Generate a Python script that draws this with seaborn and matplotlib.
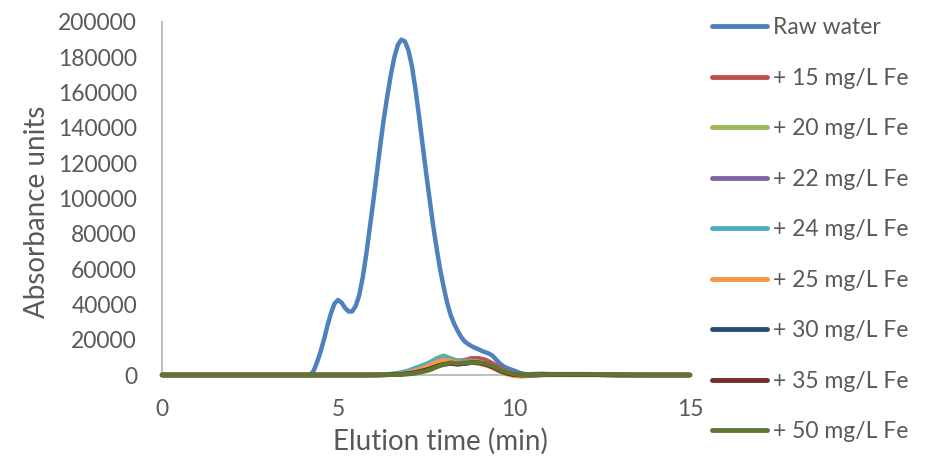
import pandas as pd
import seaborn as sns
import matplotlib.pyplot as plt

sns.set_style('white')
plt.rcParams['font.family'] = ['Lato', 'DejaVu Sans']

# elution time (min) for the raw water trace
TIME_RAW = [0, 1, 2, 3, 4, 4.2, 4.3, 4.4, 4.5, 4.6, 4.7, 4.8, 4.9,
            5.0, 5.1, 5.2, 5.3, 5.4, 5.5, 5.6, 5.7, 5.8, 5.9,
            6.0, 6.1, 6.2, 6.3, 6.4, 6.5, 6.6, 6.7, 6.8, 6.9,
            7.0, 7.1, 7.2, 7.3, 7.4, 7.5, 7.6, 7.7, 7.8, 7.9,
            8.0, 8.1, 8.2, 8.3, 8.4, 8.5, 8.6, 8.7, 8.8, 8.9,
            9.0, 9.1, 9.2, 9.3, 9.4, 9.5, 9.6, 9.7, 9.8, 9.9,
            10.0, 10.1, 10.2, 10.3, 10.4, 10.8, 11, 12, 13, 14, 15]
RAW = [0, 0, 0, 0, 0, 0, 2000, 7000, 13000, 20000, 28000, 35000, 40500,
       42500, 41000, 38000, 36000, 36000, 39000, 45000, 55000, 68000, 83000,
       98000, 114000, 130000, 145000, 158000, 170000, 180000, 187000, 190000, 189000,
       184000, 175000, 162000, 147000, 131000, 115000, 100000, 85000, 72000, 60000,
       50000, 41000, 34000, 29000, 25000, 21500, 19000, 17500, 16300, 15300,
       14500, 13500, 12800, 12000, 10800, 8500, 6500, 5000, 4000, 3200,
       2500, 1700, 1000, 600, 400, 700, 500, 500, 200, 0, 0]

# elution time (min) for the Fe-dosed traces
TIME = [0, 1, 2, 3, 4,
        4.2, 4.4, 4.6, 4.8, 5.0, 5.2, 5.4, 5.6, 5.8, 6.0, 6.2, 6.4,
        6.6, 6.8, 7.0, 7.2, 7.4, 7.6, 7.8, 8.0, 8.2, 8.4, 8.6, 8.8, 9.0,
        9.2, 9.4, 9.6, 9.8, 10.0, 10.2,
        10.5, 11, 12, 13, 14, 15]
FE15 = [0, 0, 0, 0, 0,
        0, 0, 0, 0, 0, 0, 0, 0, 0, 200, 300, 400,
        500, 1000, 1800, 3000, 4500, 6500, 8500, 10000, 9000, 8000, 8500, 9500, 9500,
        8500, 6500, 4000, 2000, 800, 200,
        0, 300, 300, 0, 0, 0]
FE20 = [0, 0, 0, 0, 0,
        0, 0, 0, 0, 0, 0, 0, 0, 0, 100, 200, 300,
        400, 800, 1500, 3200, 5000, 7000, 9500, 11000, 9500, 8000, 8000, 8000, 7500,
        6500, 5000, 3000, 1500, 500, 100,
        0, 200, 200, 0, 0, 0]
FE22 = [0, 0, 0, 0, 0,
        0, 0, 0, 0, 0, 0, 0, 0, 0, 0, 100, 200,
        300, 600, 1200, 2000, 3500, 5000, 6500, 7800, 8000, 7500, 7500, 7500, 7000,
        6000, 4500, 2500, 1200, 400, 100,
        0, 200, 200, 0, 0, 0]
FE24 = [0, 0, 0, 0, 0,
        0, 0, 0, 0, 0, 0, 0, 0, 0, 100, 200, 400,
        800, 1500, 2500, 4000, 5500, 7000, 9000, 10500, 9000, 8000, 7500, 7500, 7000,
        6000, 4500, 2500, 1000, 300, 0,
        0, 200, 200, 0, 0, 0]
FE25 = [0, 0, 0, 0, 0,
        0, 0, 0, 0, 0, 0, 0, 0, 0, 0, 100, 200,
        300, 800, 1500, 2500, 4000, 5500, 7500, 8500, 8000, 7000, 7000, 7000, 6500,
        5500, 4000, 2000, 500, -500, -800,
        -300, 0, 0, 0, 0, 0]
FE30 = [0, 0, 0, 0, 0,
        0, 0, 0, 0, 0, 0, 0, 0, 0, 0, 0, 100,
        200, 500, 900, 1500, 2500, 3500, 5000, 6000, 6500, 6000, 6500, 7000, 7000,
        6000, 4500, 2500, 1000, 200, 0,
        0, 200, 200, 0, 0, 0]
FE35 = [0, 0, 0, 0, 0,
        0, 0, 0, 0, 0, 0, 0, 0, 0, 0, 0, 100,
        200, 400, 800, 1200, 2200, 3200, 4800, 6000, 6500, 6200, 6500, 7000, 6800,
        6000, 4500, 2500, 1000, 200, 0,
        0, 200, 200, 0, 0, 0]
FE50 = [0, 0, 0, 0, 0,
        0, 0, 0, 0, 0, 0, 0, 0, 0, 0, 0, 100,
        100, 300, 500, 1000, 1800, 2800, 4500, 6000, 7000, 6500, 7000, 7000, 7000,
        6500, 5000, 3000, 1500, 500, 0,
        0, 300, 400, 200, 0, 0]

LABELS = ['Raw water', '+ 15 mg/L Fe', '+ 20 mg/L Fe', '+ 22 mg/L Fe',
          '+ 24 mg/L Fe', '+ 25 mg/L Fe', '+ 30 mg/L Fe', '+ 35 mg/L Fe',
          '+ 50 mg/L Fe']
SERIES = [RAW, FE15, FE20, FE22, FE24, FE25, FE30, FE35, FE50]
COLORS = ['#4F81BD', '#C0504D', '#9BBB59', '#8064A2', '#4BACC6',
          '#F79646', '#2C4D75', '#772C2A', '#5F7530']

frames = []
for lab, vals in zip(LABELS, SERIES):
    t = TIME_RAW if lab == 'Raw water' else TIME
    frames.append(pd.DataFrame({'time': t, 'value': vals, 'series': lab}))
df = pd.concat(frames, ignore_index=True)

TEXT = '#595959'
fig = plt.figure(figsize=(9.27, 4.62), dpi=100)
ax = fig.add_axes([0.1748, 0.1883, 0.5695, 0.7641])

sns.lineplot(data=df, x='time', y='value', hue='series', hue_order=LABELS,
             palette=COLORS, linewidth=3.2, sort=False, ax=ax, clip_on=False,
             zorder=3, solid_joinstyle='round', solid_capstyle='round')

ax.set_xlim(0, 15)
ax.set_ylim(0, 200000)
ax.set_xticks([0, 5, 10, 15])
ax.set_yticks(range(0, 200001, 20000))
ax.set_yticklabels([str(v) for v in range(0, 200001, 20000)])
ax.tick_params(length=0, labelsize=16.5, colors=TEXT)
ax.tick_params(axis='x', pad=17)
ax.tick_params(axis='y', pad=18)

for side in ['top', 'right']:
    ax.spines[side].set_visible(False)
for side in ['left', 'bottom']:
    ax.spines[side].set_color('#BFBFBF')
    ax.spines[side].set_linewidth(1.5)

ax.set_xlabel('Elution time (min)', fontsize=20, color=TEXT, labelpad=6)
ax.set_ylabel('Absorbance units', fontsize=20, color=TEXT, labelpad=6)
ax.xaxis.label.set_x(0.527)
ax.yaxis.label.set_y(0.462)

sns.move_legend(ax, 'upper left', bbox_to_anchor=(712 / 927, 1 - 17 / 462),
                bbox_transform=fig.transFigure, frameon=False, title=None,
                fontsize=16.5, labelspacing=1.29, handlelength=2.4,
                handletextpad=0.25, borderpad=0, borderaxespad=0)
leg = ax.get_legend()
for line in leg.get_lines():
    line.set_linewidth(3.5)
for txt in leg.get_texts():
    txt.set_color(TEXT)

fig.savefig('out.png', dpi=100)
